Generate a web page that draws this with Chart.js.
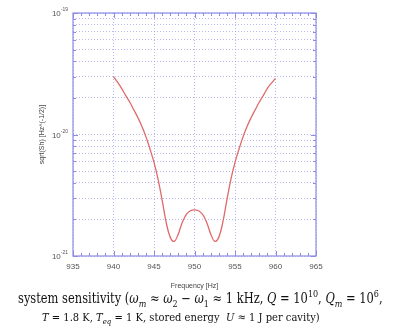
<!DOCTYPE html>
<html>
<head>
<meta charset="utf-8">
<script src="https://cdn.jsdelivr.net/npm/chart.js@4.4.0/dist/chart.umd.min.js"></script>
<style>
  html, body { margin: 0; padding: 0; background: #fff; width: 394px; height: 329px; overflow: hidden; }
  #wrap { position: relative; width: 394px; height: 329px; }
  canvas { position: absolute; left: 0; top: 0; }
  .cap { position: absolute; white-space: nowrap; font-family: "DejaVu Serif", "Liberation Serif", serif; color: #111; transform-origin: 0 50%; line-height: 1; }
  .cap i { font-style: italic; }
  .cap sub, .cap sup { font-size: 70%; line-height: 0; }
  #cap1 { left: 18px; top: 291px; font-size: 14px; }
  #cap2 { left: 42px; top: 312px; font-size: 11.5px; }
</style>
</head>
<body>
<div id="wrap">
  <canvas id="chart" width="394" height="290"></canvas>
  <div class="cap" id="cap1">system sensitivity (<i>ω</i><sub><i>m</i></sub> ≈ <i>ω</i><sub>2</sub> − <i>ω</i><sub>1</sub> ≈ 1 kHz, <i>Q</i> = 10<sup>10</sup>, <i>Q</i><sub><i>m</i></sub> = 10<sup>6</sup>,</div>
  <div class="cap" id="cap2"><i>T</i> = 1.8 K, <i>T</i><sub><i>eq</i></sub> = 1 K, stored energy &nbsp;<i>U</i> ≈ 1 J per cavity)</div>
</div>
<script>
// frequency [Hz] and sqrt(Sh) [Hz^(-1/2)]
const freqs = [940, 940.5, 941, 941.5, 942, 942.5, 943, 943.5, 944, 944.5, 945, 945.5, 946, 946.5, 947, 947.5, 948, 948.5, 949, 949.5,
               950, 950.5, 951, 951.5, 952, 952.5, 953, 953.5, 954, 954.5, 955, 955.5, 956, 956.5, 957, 957.5, 958, 958.5, 959, 959.5, 960];
const sensitivity = [3.0e-20, 2.7e-20, 2.4e-20, 2.1e-20, 1.85e-20, 1.6e-20, 1.38e-20, 1.17e-20, 9.6e-21, 7.6e-21, 5.9e-21, 4.3e-21, 2.9e-21, 1.9e-21, 1.43e-21, 1.32e-21, 1.52e-21, 1.9e-21, 2.2e-21, 2.36e-21,
                     2.4e-21, 2.36e-21, 2.2e-21, 1.9e-21, 1.52e-21, 1.32e-21, 1.43e-21, 1.9e-21, 2.9e-21, 4.3e-21, 5.9e-21, 7.6e-21, 9.6e-21, 1.17e-20, 1.38e-20, 1.6e-20, 1.85e-20, 2.1e-20, 2.4e-20, 2.65e-20, 2.9e-20];

const xTicks = [935, 940, 945, 950, 955, 960, 965];
const yTicks = [1e-21, 2e-21, 3e-21, 4e-21, 5e-21, 6e-21, 7e-21, 8e-21, 9e-21,
                1e-20, 2e-20, 3e-20, 4e-20, 5e-20, 6e-20, 7e-20, 8e-20, 9e-20, 1e-19];
const yLabels = { '1e-21': '-21', '1e-20': '-20', '1e-19': '-19' };

const frameColor = '#8c8ce6';
const gridColor = 'rgba(140,140,235,0.6)';

// frame, inward tick marks and "10^n" labels, gnuplot style
const framePlugin = {
    id: 'frame',
    afterDatasetsDraw(chart) {
        const { ctx, chartArea: a, scales } = chart;
        ctx.save();
        ctx.strokeStyle = frameColor;
        ctx.lineWidth = 1;
        ctx.beginPath();
        for (let f = xTicks[0]; f <= xTicks[xTicks.length - 1]; f++) {
            const px = Math.round(scales.x.getPixelForValue(f)) + 0.5;
            const len = f % 5 === 0 ? 5 : 3;
            ctx.moveTo(px, a.bottom); ctx.lineTo(px, a.bottom - len);
            ctx.moveTo(px, a.top); ctx.lineTo(px, a.top + len);
        }
        yTicks.forEach(v => {
            const py = Math.round(scales.y.getPixelForValue(v)) + 0.5;
            const len = yLabels[v.toString()] ? 5 : 3;
            ctx.moveTo(a.left, py); ctx.lineTo(a.left + len, py);
            ctx.moveTo(a.right, py); ctx.lineTo(a.right - len, py);
        });
        ctx.stroke();
        ctx.lineWidth = 1.2;
        ctx.strokeRect(a.left, a.top, a.right - a.left, a.bottom - a.top);

        ctx.fillStyle = '#555';
        ctx.textBaseline = 'middle';
        yTicks.forEach(v => {
            const exp = yLabels[v.toString()];
            if (!exp) return;
            const py = scales.y.getPixelForValue(v);
            ctx.font = '5px "Liberation Sans"';
            ctx.textAlign = 'left';
            const ew = ctx.measureText(exp).width;
            ctx.fillText(exp, a.left - 5 - ew, py - 3);
            ctx.font = '8px "Liberation Sans"';
            ctx.textAlign = 'right';
            ctx.fillText('10', a.left - 5 - ew, py + 1);
        });
        ctx.restore();
    }
};

new Chart(document.getElementById('chart'), {
    type: 'line',
    data: {
        labels: freqs,
        datasets: [{
            data: freqs.map((f, i) => ({ x: f, y: sensitivity[i] })),
            borderColor: '#e06a6a',
            borderWidth: 1.3,
            pointRadius: 0,
            tension: 0.4,
            fill: false,
        }],
    },
    options: {
        responsive: false,
        devicePixelRatio: 1,
        animation: false,
        layout: { padding: { left: 0, right: 78, top: 13, bottom: 0 } },
        plugins: { legend: { display: false }, tooltip: { enabled: false } },
        scales: {
            x: {
                type: 'linear',
                min: 935,
                max: 965,
                afterBuildTicks: scale => { scale.ticks = xTicks.map(v => ({ value: v })); },
                afterFit: scale => { scale.height = 34; },
                ticks: { color: '#555', font: { family: 'Liberation Sans', size: 8 }, padding: 6, maxRotation: 0, autoSkip: false },
                grid: { color: gridColor, lineWidth: 1, drawTicks: false },
                border: { display: false, dash: [1, 2] },
                title: { display: true, text: 'Frequency [Hz]', color: '#444', font: { family: 'Liberation Sans', size: 7 }, padding: { top: 2, bottom: 0 } },
            },
            y: {
                type: 'logarithmic',
                min: 1e-21,
                max: 1e-19,
                afterBuildTicks: scale => { scale.ticks = yTicks.map(v => ({ value: v })); },
                afterFit: scale => { scale.width = 73; },
                ticks: { display: false },
                grid: { color: gridColor, lineWidth: 1, drawTicks: false },
                border: { display: false, dash: [1, 2] },
                title: { display: true, text: 'sqrt(Sh) [Hz^(-1/2)]', color: '#444', font: { family: 'Liberation Sans', size: 7 }, padding: { top: 38, bottom: 0 } },
            },
        },
    },
    plugins: [framePlugin],
});

// stretch caption lines to the width they take in the reference
[['cap1', 365], ['cap2', 278]].forEach(([id, w]) => {
    const el = document.getElementById(id);
    el.style.transform = 'scaleX(' + (w / el.offsetWidth) + ')';
});
</script>
</body>
</html>
